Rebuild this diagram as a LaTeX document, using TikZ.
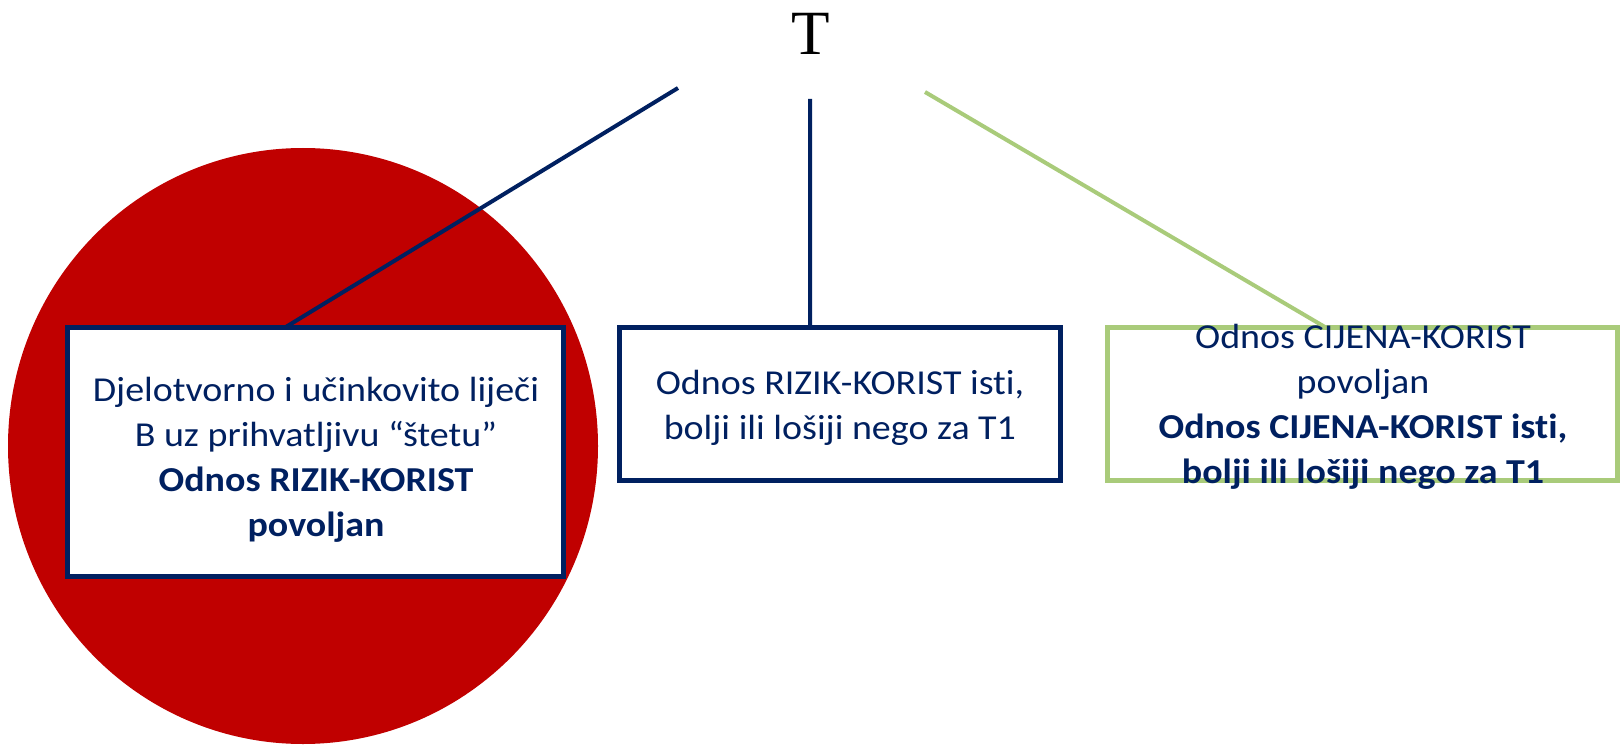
\documentclass[tikz,border=0pt]{standalone}
\usepackage{fontspec}
\setmainfont{Carlito}[FakeStretch=1.085, Ligatures=NoCommon]
\newfontfamily\titlefont{Liberation Serif}
\usetikzlibrary{calc}

\definecolor{navyline}{RGB}{0,32,96}
\definecolor{riskred}{RGB}{192,0,0}
\definecolor{costgreen}{RGB}{169,203,122}

\tikzset{
  critbox/.style={rectangle, draw=navyline, line width=2.5pt, fill=white, inner sep=0pt, outer sep=0pt},
  crittext/.style={text=navyline, align=center, inner sep=0pt, font=\fontsize{17.5}{22.5}\selectfont},
  branch/.style={draw=navyline, line width=2pt},
}

\begin{document}
\begin{tikzpicture}[x=0.5pt,y=0.5pt,yscale=-1,xscale=1]
\useasboundingbox (0,0) rectangle (1623,749);

%Shape: Circle
\fill[riskred] (303,446) ellipse [x radius=295, y radius=298];

%Shape: Rectangle
\node[critbox, minimum width=248pt, minimum height=124.5pt] (efficacy) at (315.5,452) {};
%Shape: Rectangle
\node[critbox, minimum width=220.5pt, minimum height=76.5pt] (risk) at (840,404) {};
%Shape: Rectangle
\node[critbox, draw=costgreen, minimum width=255pt, minimum height=76.5pt] (cost) at (1362.5,404) {};

% Text Node
\node[font=\titlefont\fontsize{31.5}{36}\selectfont, inner sep=0pt, anchor=base] (top) at (811,55) {T};

%Straight Lines
\coordinate (fromleft) at (678,88);
\coordinate (frommid) at (810,99);
\coordinate (fromright) at (925,92);
\draw[branch] (fromleft) -- ($(efficacy.north west)!0.4385!(efficacy.north east)$);
\draw[branch] (frommid) -- ($(risk.north west)!0.432!(risk.north east)$);
\draw[branch, draw=costgreen] (fromright) -- ($(cost.north west)!0.428!(cost.north east)$);

% Text Node
\node[crittext] (efficacytext) at (316,460) {Djelotvorno i učinkovito liječi\\B uz prihvatljivu “štetu”\\\textbf{Odnos RIZIK-KORIST}\\\textbf{povoljan}};
% Text Node
\node[crittext] (risktext) at (840,408) {Odnos RIZIK-KORIST isti,\\bolji ili lošiji nego za T1};
% Text Node
\node[crittext] (costtext) at (1363,407) {Odnos CIJENA-KORIST\\povoljan\\\textbf{Odnos CIJENA-KORIST isti,}\\\textbf{bolji ili lošiji nego za T1}};

\end{tikzpicture}
\end{document}
